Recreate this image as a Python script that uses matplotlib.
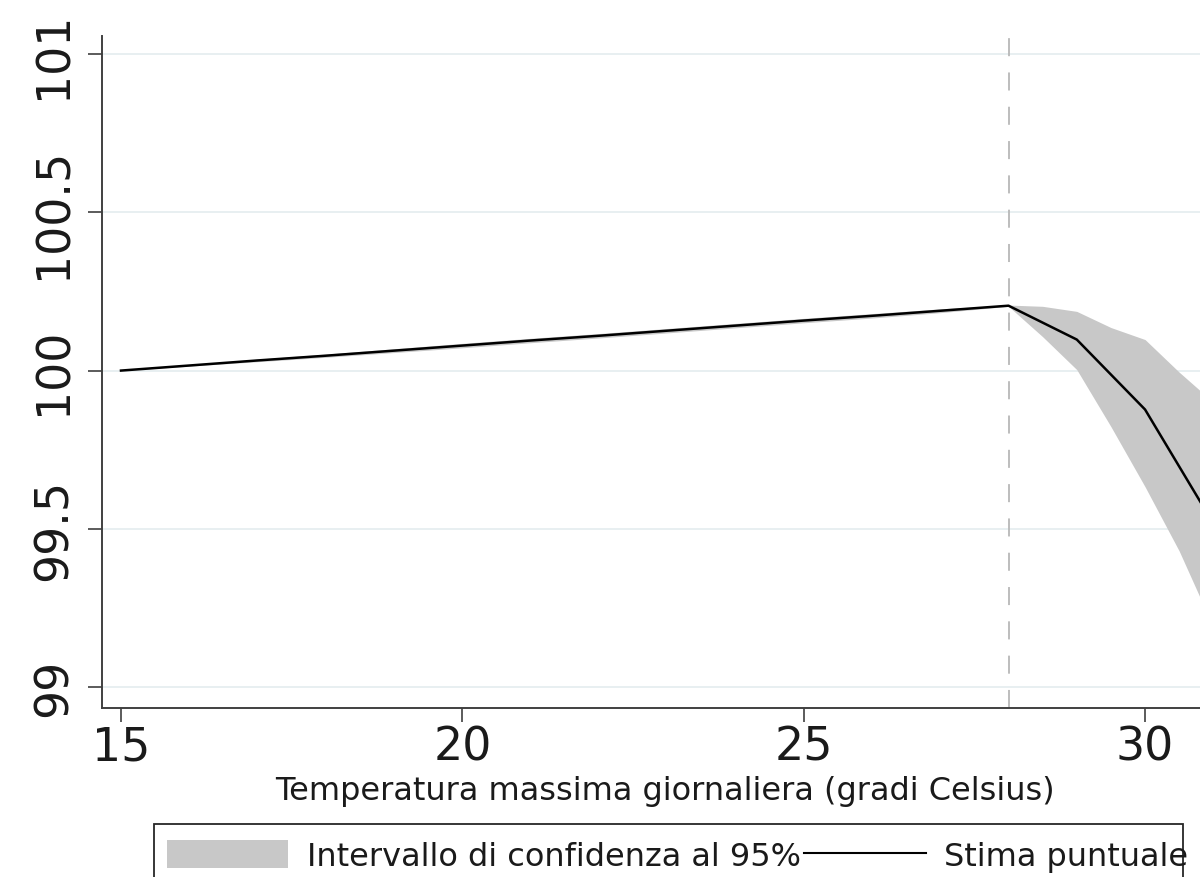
import matplotlib
matplotlib.use("Agg")
import matplotlib.pyplot as plt
from matplotlib.patches import Patch, Rectangle
from matplotlib.lines import Line2D

plt.rcParams['font.family'] = ['DejaVu Sans']

# Point estimate of the index (base 100 at 15 °C), by daily maximum temperature
temperatura = [15, 16, 17, 18, 19, 20, 21, 22, 23, 24, 25, 26, 27, 28, 29, 30, 31]
stima = [100.000, 100.016, 100.032, 100.047, 100.063, 100.079, 100.095, 100.110,
         100.126, 100.142, 100.158, 100.173, 100.189, 100.205, 100.098, 99.877, 99.517]

# 95% confidence band, evaluated on a finer grid above the threshold
temperatura_ic = [15, 16, 17, 18, 19, 20, 21, 22, 23, 24, 25, 26, 27, 28,
                  28.5, 29, 29.5, 30, 30.5, 31]
ic_sup = [100.000, 100.018, 100.036, 100.052, 100.069, 100.086, 100.102, 100.117,
          100.133, 100.149, 100.165, 100.180, 100.195, 100.207,
          100.203, 100.187, 100.136, 100.098, 99.995, 99.900]
ic_inf = [100.000, 100.014, 100.028, 100.042, 100.057, 100.072, 100.088, 100.103,
          100.119, 100.135, 100.151, 100.166, 100.183, 100.203,
          100.107, 100.003, 99.823, 99.633, 99.430, 99.190]

soglia = 28
y_ticks = [99, 99.5, 100, 100.5, 101]
y_labels = ["99", "99.5", "100", "100.5", "101"]
x_ticks = [15, 20, 25, 30]
x_labels = ["15", "20", "25", "30"]

W, H = 1200, 878
fig = plt.figure(figsize=(W / 100, H / 100), dpi=100)
ax = fig.add_axes([102 / W, (H - 709) / H, (1228 - 102) / W, (709 - 37) / H])

band_color = "#c8c8c8"
ax.fill_between(temperatura_ic, ic_inf, ic_sup, color=band_color, lw=0, zorder=2)
ax.plot(temperatura, stima, color="black", lw=1.8, zorder=3)
ax.axvline(soglia, color="#b8b8b8", lw=1.3, dashes=(10, 9), zorder=1.5)

ax.set_xlim(14.722, 31.215)
ax.set_ylim(98.934, 101.057)

ax.set_yticks(y_ticks)
ax.set_yticklabels(y_labels)
ax.set_xticks(x_ticks)
ax.set_xticklabels(x_labels)

ax.yaxis.grid(True, color="#e6eef0", lw=1.3)
ax.xaxis.grid(False)
ax.set_axisbelow(True)

for side in ("top", "right"):
    ax.spines[side].set_visible(False)
for side in ("left", "bottom"):
    ax.spines[side].set_color("#404040")
    ax.spines[side].set_linewidth(1.4)

ax.tick_params(axis="both", length=10, width=1.2, color="#404040",
               labelsize=33, labelcolor="#1a1a1a")
ax.tick_params(axis="x", pad=2)
ax.tick_params(axis="y", pad=8, labelrotation=90)
for lab in ax.get_yticklabels():
    lab.set_va("center")

ax.set_xlabel("Temperatura massima giornaliera (gradi Celsius)", fontsize=23,
              color="#1a1a1a", labelpad=3.5)

# Legend frame and entries
fig.patches.append(Rectangle((154 / W, (H - 900) / H), (1183 - 154) / W, 75 / H,
                             transform=fig.transFigure, facecolor="white",
                             edgecolor="#262626", lw=1.3, zorder=0))
handles = [Patch(facecolor=band_color, edgecolor="none"),
           Line2D([], [], color="black", lw=1.5)]
labels = ["Intervallo di confidenza al 95%", "Stima puntuale"]
fig.legend(handles, labels, ncol=2, frameon=False, fontsize=23,
           loc="center left", bbox_to_anchor=(167 / W, (H - 857) / H),
           borderpad=0, borderaxespad=0, handlelength=3.8, handleheight=0.94,
           handletextpad=0.58, columnspacing=0.1, labelcolor="#1a1a1a")

fig.savefig("out.png", dpi=100)
